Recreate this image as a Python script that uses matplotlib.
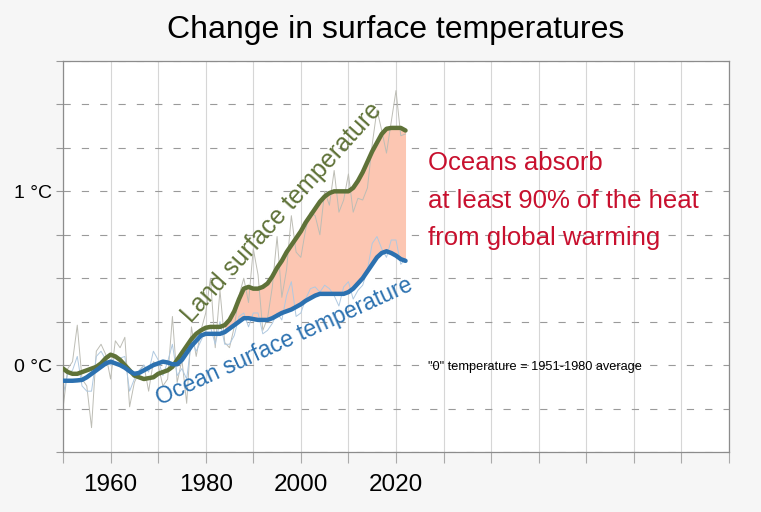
import matplotlib
matplotlib.use("Agg")
import matplotlib.pyplot as plt

plt.rcParams['font.family'] = ['Liberation Sans', 'DejaVu Sans']

# Data (anomalies in deg C vs 1951-1980)
years = list(range(1950, 2023))

land_annual = [
    -0.25, -0.02, 0.02, 0.23, -0.08, -0.12, -0.36, 0.08, 0.12, 0.06,
    -0.08, 0.14, 0.10, 0.16, -0.24, -0.10, -0.04, 0.00, -0.15, 0.02,
    0.00, -0.12, -0.08, 0.28, -0.10, 0.03, -0.22, 0.22, 0.05, 0.20,
    0.30, 0.50, 0.10, 0.43, 0.13, 0.10, 0.22, 0.40, 0.50, 0.36,
    0.67, 0.52, 0.20, 0.27, 0.45, 0.74, 0.39, 0.55, 0.86, 0.65,
    0.62, 0.78, 0.88, 0.86, 0.75, 1.00, 0.92, 1.12, 0.88, 0.95,
    1.10, 0.88, 0.96, 0.95, 1.02, 1.27, 1.47, 1.35, 1.22, 1.40,
    1.58, 1.32, 1.33,
]

ocean_annual = [
    -0.17, -0.05, -0.03, 0.05, -0.12, -0.15, -0.15, 0.05, 0.08, 0.03,
    0.00, 0.05, 0.04, 0.05, -0.15, -0.08, -0.03, 0.00, -0.04, 0.08,
    0.03, -0.06, 0.02, 0.12, -0.06, -0.02, -0.08, 0.14, 0.08, 0.14,
    0.20, 0.22, 0.12, 0.25, 0.12, 0.12, 0.17, 0.28, 0.30, 0.22,
    0.30, 0.30, 0.18, 0.20, 0.24, 0.30, 0.26, 0.40, 0.48, 0.28,
    0.30, 0.38, 0.44, 0.45, 0.42, 0.46, 0.44, 0.40, 0.34, 0.45,
    0.48, 0.38, 0.43, 0.46, 0.55, 0.70, 0.74, 0.67, 0.62, 0.72,
    0.72, 0.58, 0.61,
]

land_smooth = [
    -0.02, -0.04, -0.05, -0.05, -0.04, -0.03, -0.02, -0.01, 0.01, 0.04,
    0.06, 0.05, 0.03, 0.00, -0.03, -0.06, -0.07, -0.08, -0.075, -0.07,
    -0.05, -0.04, -0.03, -0.01, 0.03, 0.07, 0.11, 0.15, 0.18, 0.20,
    0.215, 0.22, 0.22, 0.22, 0.23, 0.26, 0.31, 0.38, 0.44, 0.45,
    0.44, 0.44, 0.45, 0.47, 0.51, 0.56, 0.60, 0.65, 0.69, 0.73,
    0.77, 0.82, 0.86, 0.90, 0.94, 0.97, 0.99, 1.00, 1.00, 1.00,
    1.00, 1.02, 1.06, 1.11, 1.17, 1.23, 1.28, 1.33, 1.36, 1.365,
    1.365, 1.365, 1.35,
]

ocean_smooth = [
    -0.09, -0.09, -0.09, -0.088, -0.085, -0.07, -0.05, -0.03, -0.01, 0.01,
    0.02, 0.01, 0.00, -0.015, -0.035, -0.05, -0.045, -0.03, -0.015, 0.00,
    0.01, 0.02, 0.015, 0.005, 0.005, 0.03, 0.07, 0.11, 0.14, 0.17,
    0.18, 0.18, 0.18, 0.18, 0.19, 0.21, 0.23, 0.25, 0.27, 0.27,
    0.265, 0.26, 0.26, 0.26, 0.27, 0.285, 0.30, 0.31, 0.32, 0.335,
    0.35, 0.37, 0.385, 0.40, 0.41, 0.41, 0.41, 0.41, 0.41, 0.41,
    0.42, 0.44, 0.47, 0.50, 0.54, 0.58, 0.62, 0.645, 0.655, 0.645,
    0.63, 0.61, 0.60,
]

fill_start = 1984

x_ticks = list(range(1950, 2091, 10))
x_labels = ['', '1960', '', '1980', '', '2000', '', '2020', '', '', '', '', '', '', '']
y_ticks = [-0.5, -0.25, 0, 0.25, 0.5, 0.75, 1.0, 1.25, 1.5, 1.75]
y_labels = ['', '', '0 °C', '', '', '', '1 °C', '', '', '']

# Colours
land_col = '#5f7238'
ocean_col = '#2c71b0'
red_col = '#c8102e'

fig = plt.figure(figsize=(7.61, 5.12), dpi=100, facecolor='#f6f6f6')
ax = fig.add_axes([63/761, 60/512, 666/761, 391/512])
ax.set_facecolor('white')

ax.set_xlim(1950, 2090)
ax.set_ylim(-0.5, 1.75)

ax.set_xticks(x_ticks)
ax.set_xticklabels(x_labels, fontsize=17.5)
ax.set_yticks(y_ticks)
ax.set_yticklabels(y_labels, fontsize=14)
ax.tick_params(axis='x', length=8, color='#aaaaaa', pad=8)
ax.tick_params(axis='y', length=5, color='#999999', pad=3)

for s in ax.spines.values():
    s.set_color('#8c8c8c')
    s.set_linewidth(0.9)

# grid
for xv in x_ticks:
    ax.axvline(xv, color='#d6d6d6', lw=0.8, zorder=0)
for yv in y_ticks:
    ax.axhline(yv, color='#9a9a9a', lw=0.8, ls=(0, (6.5, 10)), zorder=0.5)

# fill between land and ocean
mask = [y >= fill_start for y in years]
ax.fill_between(years, ocean_smooth, land_smooth, where=mask, color='#fcc6b2', lw=0, zorder=1)

# annual lines
ax.plot(years, land_annual, color='#bdbdb5', lw=0.7, zorder=2)
ax.plot(years, ocean_annual, color='#b0c9e0', lw=0.7, zorder=2)

# smoothed lines
ax.plot(years, land_smooth, color=land_col, lw=3.2, zorder=3, solid_capstyle='round')
ax.plot(years, ocean_smooth, color=ocean_col, lw=3.2, zorder=4, solid_capstyle='round')

# labels
ax.text(1996.0, 0.88, 'Land surface temperature', color=land_col, fontsize=18,
        rotation=48, ha='center', va='center', rotation_mode='anchor', zorder=5)
ax.text(1996.6, 0.135, 'Ocean surface temperature', color=ocean_col, fontsize=16.5,
        rotation=24.5, ha='center', va='center', rotation_mode='anchor', zorder=5)

ax.text(2026.7, 1.123, 'Oceans absorb', color=red_col, fontsize=18.5, va='baseline', zorder=5)
ax.text(2026.7, 0.906, 'at least 90% of the heat', color=red_col, fontsize=18.5, va='baseline', zorder=5)
ax.text(2026.7, 0.691, 'from global warming', color=red_col, fontsize=18.5, va='baseline', zorder=5)

ax.text(2026.7, 0.0, '"0" temperature = 1951-1980 average', color='black', fontsize=9.2,
        va='center_baseline', zorder=5)

fig.text(396/761, 1 - 30/512, 'Change in surface temperatures', fontsize=23,
         ha='center', va='center')

fig.savefig('out.png', dpi=100, facecolor=fig.get_facecolor())
